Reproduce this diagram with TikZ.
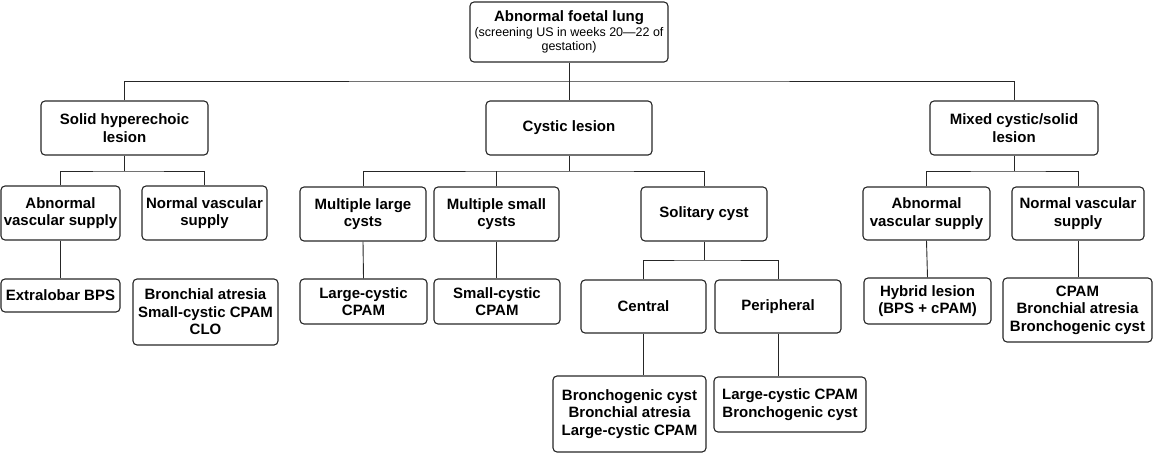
\documentclass[tikz,border=0pt]{standalone}
\usepackage{fontspec}
\setmainfont{Liberation Sans}
\begin{document}
\begin{tikzpicture}[x=1pt,y=-1pt,
  box/.style={draw=black!85, line width=1.1pt, rounded corners=4pt, inner sep=0pt, align=center,
    font=\fontsize{15}{17.5}\selectfont\bfseries},
  conn/.style={draw=black!85, line width=0.9pt}]
\useasboundingbox (0,0) rectangle (1157,456);
% level 0
\node[box, minimum width=198pt, minimum height=60pt] (top) at (569,32)
  {Abnormal foetal lung\\[-3pt]{\fontsize{12.5}{16}\selectfont\mdseries (screening US in weeks 20—22 of}\\[-3pt]{\fontsize{12.5}{16}\selectfont\mdseries gestation)}};
% level 1
\node[box, minimum width=167pt, minimum height=54pt] (solid) at (124.5,128) {Solid hyperechoic\\lesion};
\node[box, minimum width=166pt, minimum height=54pt] (cystic) at (569,128) {Cystic lesion};
\node[box, minimum width=168pt, minimum height=54pt] (mixed) at (1014,128) {Mixed cystic/solid\\lesion};
% level 2
\node[box, minimum width=119pt, minimum height=54pt] (avsL) at (60.5,213) {Abnormal\\vascular supply};
\node[box, minimum width=125pt, minimum height=54pt] (nvsL) at (204.5,213) {Normal vascular\\supply};
\node[box, minimum width=126pt, minimum height=54pt] (mlc) at (363,214) {Multiple large\\cysts};
\node[box, minimum width=125pt, minimum height=54pt] (msc) at (496.5,214) {Multiple small\\cysts};
\node[box, minimum width=126pt, minimum height=54pt] (sol) at (704,214) {Solitary cyst};
\node[box, minimum width=127pt, minimum height=53pt] (avsR) at (926.5,213.5) {Abnormal\\vascular supply};
\node[box, minimum width=132pt, minimum height=53pt] (nvsR) at (1078,213.5) {Normal vascular\\supply};
% level 3
\node[box, minimum width=119pt, minimum height=33pt] (extra) at (60.5,295.5) {Extralobar BPS};
\node[box, minimum width=145pt, minimum height=66pt] (bronL) at (205.5,312) {Bronchial atresia\\Small-cystic CPAM\\CLO};
\node[box, minimum width=127pt, minimum height=45pt] (lcc) at (363.5,301.5) {Large-cystic\\CPAM};
\node[box, minimum width=126pt, minimum height=45pt] (scc) at (497,301.5) {Small-cystic\\CPAM};
\node[box, minimum width=125pt, minimum height=53pt] (central) at (643.5,306.5) {Central};
\node[box, minimum width=126pt, minimum height=53pt] (peri) at (778,306.5) {Peripheral};
\node[box, minimum width=127pt, minimum height=46pt] (hybrid) at (927.5,301) {Hybrid lesion\\(BPS + cPAM)};
\node[box, minimum width=149pt, minimum height=64pt] (cpam) at (1077.5,310) {CPAM\\Bronchial atresia\\Bronchogenic cyst};
% level 4
\node[box, minimum width=153pt, minimum height=76pt] (bcyst) at (629.5,414) {Bronchogenic cyst\\Bronchial atresia\\Large-cystic CPAM};
\node[box, minimum width=152pt, minimum height=55pt] (lcpam) at (790,404.5) {Large-cystic CPAM\\Bronchogenic cyst};
% bars
\coordinate (b1) at (569,81);
\coordinate (b2) at (124.5,171);
\coordinate (b3) at (565,171);
\coordinate (b4) at (704,260);
\coordinate (b5) at (1014,171);
% connectors
\draw[conn] (top.south) -- (cystic.north);
\draw[conn] (solid.north) |- (b1) -| (mixed.north);
\draw[conn] (solid.south) -- (b2);
\draw[conn] (avsL.north) |- (b2) -| (nvsL.north);
\draw[conn] (avsL.south) -- (extra.north);
\draw[conn] (cystic.south) -- (cystic.south |- b3);
\draw[conn] (mlc.north) |- (b3) -| (sol.north);
\draw[conn] (msc.north) -- (msc.north |- b3);
\draw[conn] (mlc.south) -- (lcc.north);
\draw[conn] (msc.south) -- (msc.south |- scc.north);
\draw[conn] (sol.south) -- (b4);
\draw[conn] (central.north) |- (b4) -| (peri.north);
\draw[conn] (central.south) -- (central.south |- bcyst.north);
\draw[conn] (peri.south) -- (peri.south |- lcpam.north);
\draw[conn] (mixed.south) -- (b5);
\draw[conn] (avsR.north) |- (b5) -| (nvsR.north);
\draw[conn] (avsR.south) -- (hybrid.north);
\draw[conn] (nvsR.south) -- (nvsR.south |- cpam.north);
\end{tikzpicture}
\end{document}
